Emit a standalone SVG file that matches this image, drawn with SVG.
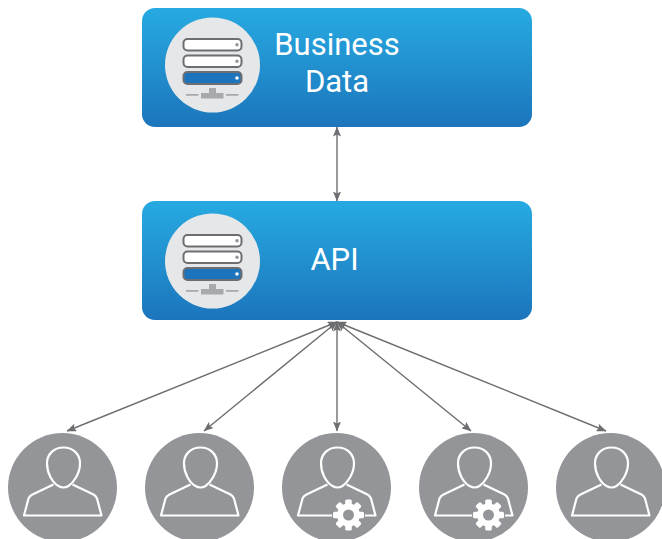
<svg xmlns="http://www.w3.org/2000/svg" width="662" height="539" viewBox="0 0 662 539">
<style>
.box{fill:url(#blue)}
.label{font-family:Roboto,"Liberation Sans",sans-serif;font-size:31px;fill:#fff;text-anchor:middle}
.conn{stroke:#6d6e71;stroke-width:1.4;fill:none;marker-start:url(#arrow);marker-end:url(#arrow)}
.disc{fill:#e6e7e8}
.rack{fill:#fff;stroke:#6d6e71;stroke-width:2}
.rackb{fill:#1c75bc;stroke:#6d6e71;stroke-width:2}
.led{fill:#939598}
.net{fill:#a7a9ac}
.usr{fill:#939598}
.outline{fill:none;stroke:#fff;stroke-width:2.2;stroke-linejoin:round}
.gear{fill:#fff}
</style>
<defs>
<linearGradient id="blue" x1="0" y1="0" x2="0" y2="1"><stop offset="0" stop-color="#27aae1"/><stop offset="1" stop-color="#1c75bc"/></linearGradient>
<marker id="arrow" viewBox="0 0 10 8" refX="9.5" refY="4" markerWidth="10" markerHeight="8" markerUnits="userSpaceOnUse" orient="auto-start-reverse"><path d="M0 0L10 4L0 8L2 4Z" fill="#6d6e71"/></marker>
<g id="server">
<circle class="disc" cx="0" cy="0" r="47.500"/>
<rect class="rack" x="-29" y="-26" width="58" height="11.500" rx="4"/>
<circle class="led" cx="24.500" cy="-20.300" r="1.700"/>
<rect class="rack" x="-29" y="-9.500" width="58" height="11.500" rx="4"/>
<circle class="led" cx="24.500" cy="-3.800" r="1.700"/>
<rect class="rackb" x="-29" y="7" width="58" height="12" rx="4"/>
<circle cx="24.500" cy="13" r="1.800" fill="#fff"/>
<path class="net" d="M-26.500 29h12.500v1.800h-12.500zM13.500 29h12.500v1.800h-12.500zM-11.500 28h8v-5h7v5h7.500v5.500h-22.500z"/>
</g>
<g id="person">
<circle class="usr" cx="0" cy="0" r="54.500"/>
<path class="outline" d="M1 -40C11 -40 17.500 -33 17.500 -24C17.500 -14 11 -5 6 -1.500Q1 1.500 -4 -1.500C-10 -5 -15.500 -14 -15.500 -24C-15.500 -33 -9 -40 1 -40Z"/>
<path class="outline" d="M-9 -3L-30 7Q-33 8.500 -34 11L-38.500 28H39L34.500 11Q33.500 8.500 31 7L10 -3"/>
</g>
<g id="gear">
<circle cx="0" cy="0" r="16.500" fill="#939598"/>
<circle class="gear" cx="0" cy="0" r="11.500"/>
<rect class="gear" x="-3.300" y="-15.500" width="6.600" height="7" rx="1.500"/>
<rect class="gear" x="-3.300" y="-15.500" width="6.600" height="7" rx="1.500" transform="rotate(45)"/>
<rect class="gear" x="-3.300" y="-15.500" width="6.600" height="7" rx="1.500" transform="rotate(90)"/>
<rect class="gear" x="-3.300" y="-15.500" width="6.600" height="7" rx="1.500" transform="rotate(135)"/>
<rect class="gear" x="-3.300" y="-15.500" width="6.600" height="7" rx="1.500" transform="rotate(180)"/>
<rect class="gear" x="-3.300" y="-15.500" width="6.600" height="7" rx="1.500" transform="rotate(225)"/>
<rect class="gear" x="-3.300" y="-15.500" width="6.600" height="7" rx="1.500" transform="rotate(270)"/>
<rect class="gear" x="-3.300" y="-15.500" width="6.600" height="7" rx="1.500" transform="rotate(315)"/>
<circle cx="0" cy="0" r="5.500" fill="#939598"/>
</g>
</defs>
<g id="connectors">
<line class="conn" x1="337" y1="127" x2="337" y2="201"/>
<line class="conn" x1="337" y1="322" x2="337" y2="431"/>
<line class="conn" x1="337" y1="322" x2="67" y2="431"/>
<line class="conn" x1="337" y1="322" x2="204" y2="431"/>
<line class="conn" x1="337" y1="322" x2="471" y2="431"/>
<line class="conn" x1="337" y1="322" x2="606" y2="431"/>
</g>
<g id="business-data">
<rect class="box" x="142" y="8" width="390" height="119" rx="13"/>
<use href="#server" x="212.500" y="65"/>
<text class="label" x="337" y="55">Business</text>
<text class="label" x="337" y="92">Data</text>
</g>
<g id="api">
<rect class="box" x="142" y="201" width="390" height="119" rx="13"/>
<use href="#server" x="212.500" y="261"/>
<text class="label" x="334.500" y="270">API</text>
</g>
<g id="user-1"><use href="#person" x="62.500" y="487.500"/></g>
<g id="user-2"><use href="#person" x="199.500" y="487.500"/></g>
<g id="user-3"><use href="#person" x="336.500" y="487.500"/><use href="#gear" x="348.500" y="515"/></g>
<g id="user-4"><use href="#person" x="473.500" y="487.500"/><use href="#gear" x="488.500" y="515"/></g>
<g id="user-5"><use href="#person" x="610.500" y="487.500"/></g>
</svg>
